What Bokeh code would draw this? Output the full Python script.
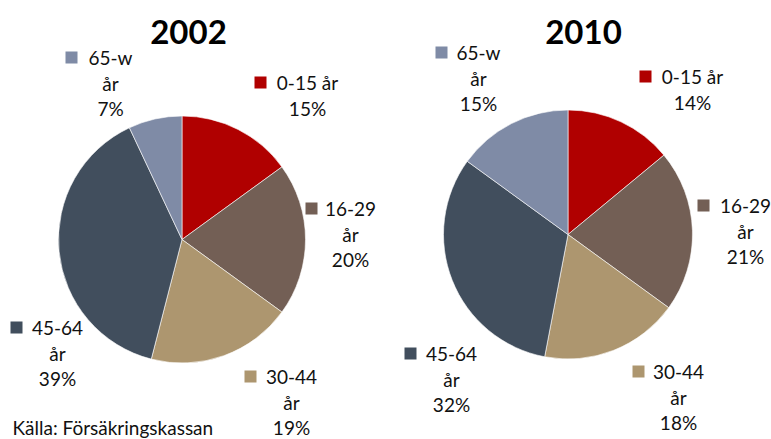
import math
from bokeh.plotting import figure
from bokeh.models import Range1d
from bokeh.core.properties import value
from bokeh.embed import file_html
from bokeh.resources import INLINE

# ---- data ----
categories = ["0-15 år", "16-29 år", "30-44 år", "45-64 år", "65-w år"]
label_lines = [["0-15 år"], ["16-29", "år"], ["30-44", "år"], ["45-64", "år"], ["65-w", "år"]]
years = ["2002", "2010"]
share_2002 = [15, 20, 19, 39, 7]
share_2010 = [14, 21, 18, 32, 15]
colors = ["#B00000", "#735F55", "#AD966F", "#414E5D", "#7F8BA6"]
source_note = "Källa: Försäkringskassan"

# ---- layout (screen px) ----
W, H = 771, 439
pies = [
    dict(share=share_2002, cx=181.5, cy=239, r=123.5, title_x=188,
         lab=[(307, 82, 260), (350, 208, 311), (291, 376, 250), (57, 327, 16), (110, 57, 71)]),
    dict(share=share_2010, cx=567.5, cy=234, r=124.5, title_x=583,
         lab=[(692, 76, 645), (745, 205, 703), (678, 371, 638), (451, 353, 410), (478, 52, 441)]),
]
FONT = "Lato"
LINE = 25.5

p = figure(width=W, height=H, output_backend="svg", toolbar_location=None,
           x_range=Range1d(0, W), y_range=Range1d(0, H), min_border=0)
p.axis.visible = False
p.grid.visible = False
p.outline_line_color = None
p.background_fill_color = "white"
p.border_fill_color = "white"

for year, pie in zip(years, pies):
    vals = pie["share"]
    total = float(sum(vals))
    cum = 0.0
    starts, ends = [], []
    for v in vals:
        starts.append(math.pi / 2 - 2 * math.pi * cum / total)
        cum += v
        ends.append(math.pi / 2 - 2 * math.pi * cum / total)
    p.wedge(x=[pie["cx"]] * len(vals), y=[H - pie["cy"]] * len(vals),
            radius=pie["r"], radius_units="screen",
            start_angle=starts, end_angle=ends, direction="clock",
            fill_color=colors, line_color="white", line_width=0.6)
    # title
    p.text(x=[pie["title_x"]], y=[H - 31], text=[year], text_align="center",
           text_baseline="middle", text_font=value(FONT), text_font_style="bold",
           text_font_size="33px", text_color="black")
    # labels
    for i, (cx, y0, sqx) in enumerate(pie["lab"]):
        lines = label_lines[i] + [f"{vals[i]}%"]
        ys = [H - (y0 + k * LINE) for k in range(len(lines))]
        p.text(x=[cx] * len(lines), y=ys, text=lines, text_align="center",
               text_baseline="middle", text_font=value(FONT),
               text_font_size="19px", text_color="#111111")
        p.rect(x=[sqx], y=[H - y0], width=12, height=12, width_units="screen",
               height_units="screen", fill_color=colors[i], line_color=None)

p.text(x=[12], y=[H - 427], text=[source_note], text_align="left",
       text_baseline="middle", text_font=value(FONT), text_font_size="19px",
       text_color="#111111")

open("out.html", "w").write(file_html(p, INLINE))
